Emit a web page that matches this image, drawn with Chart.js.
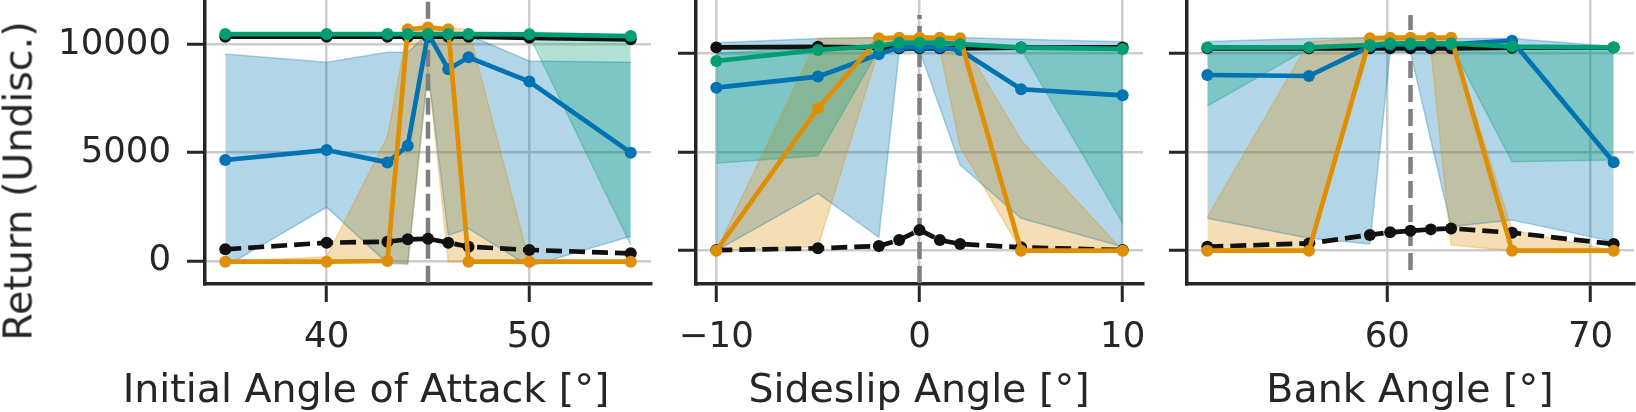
<!DOCTYPE html>
<html>
<head>
<meta charset="utf-8">
<script src="https://cdn.jsdelivr.net/npm/chart.js@4/dist/chart.umd.min.js"></script>
<style>
  body { margin: 0; background: #fff; }
  #wrap { position: relative; width: 1636px; height: 412px; overflow: hidden; font-family: "DejaVu Sans"; color: #262626; }
  .panel { position: absolute; top: 0; height: 412px; }
  .lbl { position: absolute; font-size: 39.5px; line-height: 39px; white-space: nowrap; }
  .xlbl { top: 369px; transform: translateX(-50%); }
  #ylab { left: 18px; top: 181px; transform: translate(-50%, -50%) rotate(-90deg); }
</style>
</head>
<body>
<div id="wrap">
  <div class="panel" style="left:0;width:660px"><canvas id="aoaChart"></canvas></div>
  <div class="panel" style="left:660px;width:490px"><canvas id="slipChart"></canvas></div>
  <div class="panel" style="left:1150px;width:486px"><canvas id="bankChart"></canvas></div>
  <div class="lbl" id="ylab">Return (Undisc.)</div>
  <div class="lbl xlbl" style="left:366px">Initial Angle of Attack [°]</div>
  <div class="lbl xlbl" style="left:919px">Sideslip Angle [°]</div>
  <div class="lbl xlbl" style="left:1410px">Bank Angle [°]</div>
</div>
<script>
// shared y ticks
const yTicks = [0, 5000, 10000];

// --- initial angle of attack ---
const aoaX = [35, 40, 43, 44, 45, 46, 47, 50, 55];
const aoaTicks = [40, 50];
const aoaRef = 45;
const aoaBlack = [10350, 10350, 10350, 10350, 10350, 10350, 10350, 10300, 10230];
const aoaDashed = [540, 845, 890, 1000, 1030, 845, 660, 510, 355];
const aoaGreen = [10470, 10470, 10470, 10470, 10470, 10470, 10470, 10460, 10380];
const aoaGreenHi = [10490, 10490, 10490, 10490, 10490, 10490, 10490, 10470, 10390];
const aoaGreenLo = [10450, 10450, 10450, 10450, 10450, 10450, 10450, 10400, 740];
const aoaBlue = [4660, 5120, 4550, 5320, 10500, 8850, 9400, 8280, 5000];
const aoaBlueHi = [9550, 9170, 9630, 9630, 10500, 10500, 10430, 9230, 9170];
const aoaBlueLo = [-260, 2480, -110, -140, 8740, 1200, 1500, -250, 1140];
const aoaOrange = [-30, -30, 0, 10690, 10780, 10690, -30, -30, -30];
const aoaOrangeHi = [-30, 200, 5740, 10750, 10800, 10750, 10700, -30, -30];
const aoaOrangeLo = [-30, -30, 0, -140, 8900, -30, -30, -30, -30];

// --- sideslip angle ---
const slipX = [-10, -5, -2, -1, 0, 1, 2, 5, 10];
const slipTicks = [-10, 0, 10];
const slipRef = 0;
const slipBlack = [10300, 10330, 10290, 10250, 10250, 10250, 10250, 10290, 10300];
const slipDashed = [30, 120, 240, 540, 1050, 540, 340, 170, 30];
const slipGreen = [9610, 10170, 10370, 10540, 10540, 10540, 10460, 10290, 10220];
const slipGreenHi = [10000, 10300, 10450, 10600, 10600, 10600, 10550, 10400, 10300];
const slipGreenLo = [4430, 4810, 10200, 10450, 10450, 10450, 10400, 10200, 1390];
const slipBlue = [8260, 8820, 9950, 10300, 10300, 10300, 10170, 8180, 7870];
const slipBlueHi = [10540, 10750, 10800, 10800, 10800, 10800, 10800, 10710, 10580];
const slipBlueLo = [0, 2900, 680, 10080, 10150, 7250, 4340, 1640, 200];
const slipOrange = [0, 7210, 10760, 10790, 10790, 10790, 10760, 0, 0];
const slipOrangeHi = [0, 10750, 10800, 10800, 10800, 10800, 10800, 5600, 0];
const slipOrangeLo = [0, 200, 10200, 10600, 10600, 10200, 5270, 0, 0];

// --- bank angle ---
const bankX = [51.14, 56.14, 59.14, 60.14, 61.14, 62.14, 63.14, 66.14, 71.14];
const bankTicks = [60, 70];
const bankRef = 61.14;
const bankBlack = [10250, 10250, 10250, 10250, 10250, 10250, 10250, 10280, 10300];
const bankDashed = [200, 370, 800, 930, 1010, 1080, 1130, 910, 340];
const bankGreen = [10300, 10300, 10420, 10500, 10500, 10500, 10500, 10340, 10300];
const bankGreenHi = [10350, 10350, 10450, 10550, 10550, 10550, 10550, 10400, 10350];
const bankGreenLo = [7330, 10250, 10350, 10450, 10450, 10450, 10400, 4510, 4600];
const bankBlue = [8900, 8850, 10340, 10450, 10450, 10450, 10450, 10640, 4480];
const bankBlueHi = [10600, 10750, 10800, 10800, 10800, 10800, 10750, 10750, 10340];
const bankBlueLo = [1640, 630, 340, 10050, 10050, 5600, 1220, 1560, 460];
const bankOrange = [0, 0, 10760, 10790, 10790, 10790, 10790, 0, 0];
const bankOrangeHi = [1700, 10590, 10800, 10800, 10800, 10800, 10750, 1050, 0];
const bankOrangeLo = [0, 0, 10300, 10600, 10600, 10200, 290, 0, 0];

const BLUE = [1, 115, 178], ORANGE = [222, 143, 5], GREEN = [2, 158, 115];
const INK = '#262626';
const tickFont = { family: 'DejaVu Sans', size: 35.5 };

function rgba(c, a) { return 'rgba(' + c[0] + ',' + c[1] + ',' + c[2] + ',' + a + ')'; }
function pts(xs, ys) { return xs.map((x, i) => ({ x: x, y: ys[i] })); }
function fmt(v) { return v < 0 ? '\u2212' + Math.abs(v) : String(v); }

function line(xs, ys, color, dashed) {
    return {
        data: pts(xs, ys), borderColor: color, backgroundColor: color,
        borderWidth: 4.7, pointRadius: 6, pointBorderWidth: 0,
        borderDash: dashed ? [16, 7] : [], fill: false
    };
}

function band(xs, lo, hi, c) {
    const fillColor = rgba(c, 0.3);
    return [
        { data: pts(xs, hi), borderColor: rgba(c, 0.3), borderWidth: 1.5, pointRadius: 0,
          fill: { target: '+1', above: fillColor, below: fillColor } },
        { data: pts(xs, lo), borderColor: rgba(c, 0.3), borderWidth: 1.5, pointRadius: 0, fill: false }
    ];
}

function makePanel(id, p) {
    const xs = p.x;
    const datasets = [
        line(xs, p.green, rgba(GREEN, 1)),
        line(xs, p.orange, rgba(ORANGE, 1)),
        line(xs, p.blue, rgba(BLUE, 1)),
        line(xs, p.black, '#111'),
        line(xs, p.dashed, '#111', true),
        { data: [{ x: p.ref, y: p.refSpan[0] }, { x: p.ref, y: p.refSpan[1] }],
          borderColor: '#7f7f7f', borderWidth: 4.5, borderDash: [17, 7], pointRadius: 0, fill: false }
    ].concat(
        band(xs, p.greenLo, p.greenHi, GREEN),
        band(xs, p.orangeLo, p.orangeHi, ORANGE),
        band(xs, p.blueLo, p.blueHi, BLUE)
    );

    new Chart(document.getElementById(id), {
        type: 'line',
        data: { datasets: datasets },
        options: {
            responsive: true,
            maintainAspectRatio: false,
            animation: false,
            events: [],
            layout: { autoPadding: false, padding: { left: 0, right: p.padRight, top: 0, bottom: 0 } },
            plugins: {
                legend: { display: false },
                tooltip: { enabled: false },
                filler: { drawTime: 'beforeDatasetsDraw' }
            },
            scales: {
                x: {
                    type: 'linear', min: p.xMin, max: p.xMax,
                    afterBuildTicks: s => { s.ticks = p.xTicks.map(v => ({ value: v })); },
                    afterFit: s => { s.height = 128; s.paddingLeft = 0; s.paddingRight = 0; },
                    grid: { color: '#cccccc', lineWidth: 2.5, tickColor: INK, tickWidth: 3, tickLength: 18 },
                    border: { display: true, color: INK, width: 3.5 },
                    ticks: { font: tickFont, color: INK, padding: 14, maxRotation: 0, callback: v => fmt(v) }
                },
                y: {
                    type: 'linear', min: p.yMin, max: p.yMax,
                    afterBuildTicks: s => { s.ticks = yTicks.map(v => ({ value: v })); },
                    afterFit: s => { s.width = p.yWidth; s.paddingTop = 0; s.paddingBottom = 0; },
                    grid: { color: '#cccccc', lineWidth: 2.5, tickColor: INK, tickWidth: 3, tickLength: 18 },
                    border: { display: true, color: INK, width: 3.5 },
                    ticks: { font: tickFont, color: INK, padding: 16,
                             callback: v => p.yLabels ? fmt(v) : '' }
                }
            }
        }
    });
}

makePanel('aoaChart', {
    x: aoaX, xTicks: aoaTicks, ref: aoaRef, refSpan: [-1000, 12044],
    black: aoaBlack, dashed: aoaDashed,
    green: aoaGreen, greenHi: aoaGreenHi, greenLo: aoaGreenLo,
    blue: aoaBlue, blueHi: aoaBlueHi, blueLo: aoaBlueLo,
    orange: aoaOrange, orangeHi: aoaOrangeHi, orangeLo: aoaOrangeLo,
    xMin: 34, xMax: 56, yMin: -1061, yMax: 12044, yWidth: 205, padRight: 9, yLabels: true
});

makePanel('slipChart', {
    x: slipX, xTicks: slipTicks, ref: slipRef, refSpan: [-1640, 11940],
    black: slipBlack, dashed: slipDashed,
    green: slipGreen, greenHi: slipGreenHi, greenLo: slipGreenLo,
    blue: slipBlue, blueHi: slipBlueHi, blueLo: slipBlueLo,
    orange: slipOrange, orangeHi: slipOrangeHi, orangeLo: slipOrangeLo,
    xMin: -11, xMax: 11, yMin: -1687, yMax: 12700, yWidth: 36, padRight: 7, yLabels: false
});

makePanel('bankChart', {
    x: bankX, xTicks: bankTicks, ref: bankRef, refSpan: [-980, 11940],
    black: bankBlack, dashed: bankDashed,
    green: bankGreen, greenHi: bankGreenHi, greenLo: bankGreenLo,
    blue: bankBlue, blueHi: bankBlueHi, blueLo: bankBlueLo,
    orange: bankOrange, orangeHi: bankOrangeHi, orangeLo: bankOrangeLo,
    xMin: 50.14, xMax: 72.14, yMin: -1687, yMax: 12700, yWidth: 37, padRight: 2, yLabels: false
});
</script>
</body>
</html>
